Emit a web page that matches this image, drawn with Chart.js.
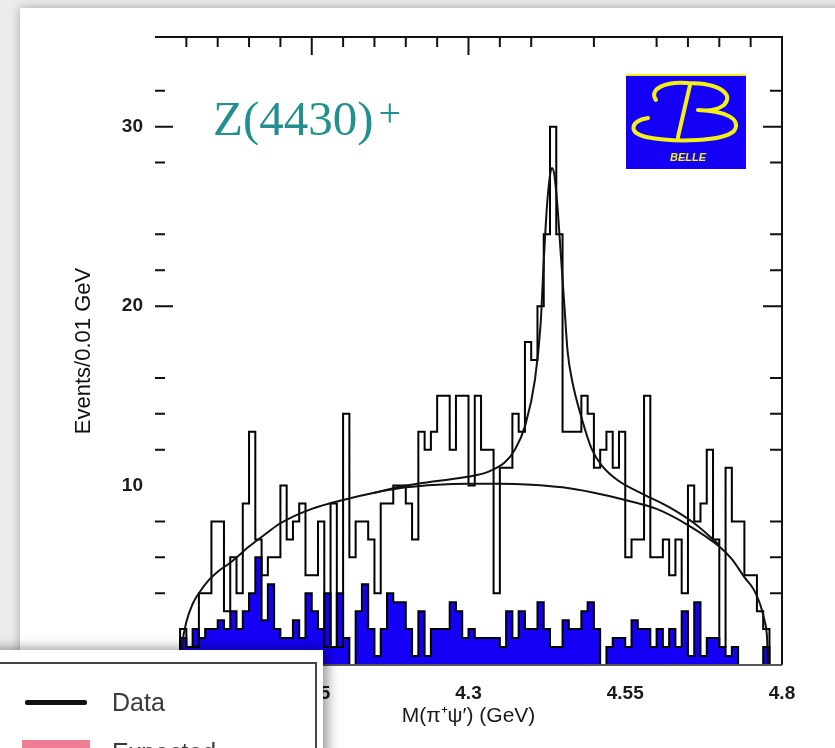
<!DOCTYPE html>
<html>
<head>
<meta charset="utf-8">
<title>Z(4430)+ M(pi+ psi') spectrum</title>
<script src="https://cdn.jsdelivr.net/npm/chart.js@4.4.1/dist/chart.umd.min.js"></script>
<style>
  html, body { margin: 0; padding: 0; }
  body {
    width: 835px; height: 748px; overflow: hidden; position: relative;
    background: #ececec;
    font-family: "Liberation Sans", Arial, sans-serif;
  }
  #card {
    position: absolute; left: 20px; top: 8px; width: 840px; height: 760px;
    background: #fff; box-shadow: 0 0 10px rgba(0, 0, 0, 0.3);
  }
  #plot { position: absolute; left: 0; top: 0; }
  #legendBox {
    position: absolute; left: -20px; top: 650px; width: 343px; height: 140px;
    background: #fff; box-shadow: 4px -1px 12px rgba(0, 0, 0, 0.45);
  }
  #legendBox .inner {
    position: absolute; left: 0; top: 12px; width: 333px; height: 200px;
    border: 2px solid #444;
  }
  .swatch { position: absolute; }
  .swatch.line { left: 43px; top: 36px; width: 62px; height: 5px; background: #111; border-radius: 2px; }
  .swatch.fill { left: 40px; top: 76px; width: 68px; height: 22px; background: rgb(240, 125, 150); }
  .lbl { position: absolute; left: 130px; font-size: 25px; color: #3a3a3a; line-height: 28px; }
</style>
</head>
<body>
<div id="card"></div>
<canvas id="plot" width="835" height="748"></canvas>
<div id="legendBox">
  <div class="inner">
    <span class="swatch line"></span><span class="lbl" style="top:24px">Data</span>
    <span class="swatch fill"></span><span class="lbl" style="top:74px">Expected</span>
  </div>
</div>
<script>
// binning: 100 bins of 0.01 GeV from 3.80 to 4.80
const histLow = 3.80;
const binWidth = 0.01;

// events per bin (data)
const dataCounts = [
  0, 0, 0, 0, 2, 1, 1, 4, 4, 8,
  8, 3, 6, 4, 9, 13, 7, 5, 6, 6,
  10, 7, 8, 9, 5, 5, 8, 1, 9, 1,
  14, 6, 8, 8, 7, 4, 9, 9, 10, 10,
  9, 7, 13, 12, 13, 15, 15, 12, 15, 15,
  10, 15, 12, 12, 4, 11, 11, 14, 13, 18,
  17, 20, 24, 30, 24, 13, 13, 13, 15, 14,
  11, 12, 13, 11, 13, 6, 7, 7, 15, 6,
  6, 7, 5, 7, 4, 10, 8, 9, 12, 7,
  1, 11, 8, 8, 5, 5, 3, 2, 0, 0
];

// expected background per bin (filled)
const expected = [
  0, 0, 0, 0, 1.5, 1, 2, 1.5, 2, 2,
  2.5, 2, 3, 2, 3, 4, 6, 2.5, 4.5, 2,
  1.5, 1.5, 2.5, 1.5, 4, 3, 2, 4, 1, 4,
  1.5, 0, 3, 4.5, 2, 0.5, 2, 4, 3.5, 3.5,
  2, 0.5, 3, 0.5, 2, 2, 2, 3.5, 3, 1.5,
  2, 1.5, 1.5, 1.5, 1.5, 1, 3, 1.5, 3, 2,
  2, 3.5, 2, 1, 1, 2.5, 2, 2, 3, 3.5,
  2, 0, 1, 1.5, 1.5, 1, 2.5, 2, 2, 1,
  2, 1, 2, 1, 3, 0.5, 3.5, 0.5, 1.5, 1.5,
  1, 0.5, 1, 0, 0, 0, 0, 1, 0, 0
];

// background fit curve
const bkgFitMass = [3.840, 3.843, 3.850, 3.860, 3.870, 3.885, 3.900, 3.920, 3.950, 3.980,
  4.000, 4.050, 4.100, 4.150, 4.200, 4.250, 4.300, 4.350, 4.400, 4.450,
  4.500, 4.550, 4.600, 4.650, 4.700, 4.720, 4.740, 4.755, 4.765, 4.772, 4.776, 4.778];
const bkgFitValue = [0, 1.1, 2.4, 3.4, 4.0, 4.7, 5.2, 5.7, 6.6, 7.4,
  7.9, 8.7, 9.2, 9.6, 9.9, 10.05, 10.1, 10.1, 10.05, 9.9,
  9.6, 9.2, 8.7, 7.8, 6.6, 5.9, 4.9, 4.2, 3.4, 2.5, 1.6, 0];

// signal + background fit curve
const totFitMass = [4.150, 4.200, 4.250, 4.300, 4.330, 4.358, 4.374, 4.390, 4.406, 4.415,
  4.420, 4.425, 4.430, 4.433, 4.437, 4.442, 4.447, 4.453, 4.458, 4.465,
  4.481, 4.497, 4.513, 4.538, 4.580, 4.620, 4.660, 4.700];
const totFitValue = [9.6, 10.0, 10.25, 10.5, 10.75, 11.3, 12.0, 13.3, 15.9, 19.0,
  22.5, 25.5, 27.3, 27.7, 27.3, 25.5, 23.0, 20.0, 17.5, 15.9,
  13.7, 12.0, 11.1, 10.3, 9.5, 8.8, 7.9, 6.7];

// axis ticks and labels
const xTickValues = [4.05, 4.3, 4.55, 4.8];
const xTickLabels = ['4.05', '4.3', '4.55', '4.8'];
const yTickValues = [10, 20, 30];
const xMajorMarks = [4.05, 4.3];
const xMinorMarks = [3.85, 3.9, 3.95, 4.0, 4.1, 4.15, 4.2, 4.25, 4.35, 4.4, 4.5, 4.6, 4.65, 4.7, 4.75];
const yMajorMarks = [20, 30];
const yMinorMarks = [4, 6, 8, 12, 14, 16, 22, 24, 28, 32];

const binEdges = Array.from({ length: dataCounts.length + 1 }, (_, i) => +(histLow + i * binWidth).toFixed(2));

// histogram outline: one point per bin low edge plus the closing high edge
const stepPoints = (vals) => {
  const pts = vals.map((v, i) => ({ x: binEdges[i], y: v }));
  pts.push({ x: binEdges[vals.length], y: vals[vals.length - 1] });
  return pts;
};
const curvePoints = (xs, ys) => xs.map((m, i) => ({ x: m, y: ys[i] }));

// frame, inward ticks, title and logo
const framePlugin = {
  id: 'framePlugin',
  afterDraw(chart) {
    const { ctx, chartArea: a, scales: { x, y } } = chart;
    ctx.save();
    ctx.strokeStyle = '#111';
    ctx.lineWidth = 2;
    ctx.beginPath();
    ctx.moveTo(a.left, a.top);
    ctx.lineTo(a.right, a.top);
    ctx.lineTo(a.right, a.bottom);
    ctx.stroke();
    ctx.strokeStyle = '#555';
    ctx.beginPath();
    ctx.moveTo(a.left + 20, a.bottom);
    ctx.lineTo(a.right, a.bottom);
    ctx.stroke();

    ctx.strokeStyle = '#111';
    ctx.beginPath();
    const xMark = (v, len) => {
      const px = x.getPixelForValue(v);
      ctx.moveTo(px, a.top); ctx.lineTo(px, a.top + len);
    };
    xMinorMarks.forEach(v => xMark(v, 10));
    xMajorMarks.forEach(v => xMark(v, 18));
    const yMark = (v, lenL, lenR) => {
      const py = y.getPixelForValue(v);
      ctx.moveTo(a.left, py); ctx.lineTo(a.left + lenL, py);
      ctx.moveTo(a.right, py); ctx.lineTo(a.right - lenR, py);
    };
    yMinorMarks.forEach(v => yMark(v, 10, 12));
    yMajorMarks.forEach(v => yMark(v, 18, 19));
    ctx.stroke();

    // Z(4430)+ label
    ctx.fillStyle = '#22908f';
    ctx.font = '49px "Liberation Serif", "DejaVu Serif", serif';
    ctx.textBaseline = 'alphabetic';
    ctx.fillText('Z(4430)', a.left + 58, a.top + 98);
    const w = ctx.measureText('Z(4430)').width;
    ctx.font = '40px "Liberation Serif", "DejaVu Serif", serif';
    ctx.fillText('+', a.left + 63 + w, a.top + 89);

    // Belle logo
    const lx = a.right - 156, ly = a.top + 38;
    ctx.fillStyle = 'rgb(20, 0, 245)';
    ctx.fillRect(lx, ly, 120, 94);
    ctx.fillStyle = 'rgb(245, 240, 20)';
    ctx.fillRect(lx, ly - 1, 120, 2);
    ctx.strokeStyle = 'rgb(245, 240, 20)';
    ctx.lineWidth = 4;
    ctx.lineCap = 'round';
    ctx.beginPath();
    // upper bowl
    ctx.moveTo(lx + 30, ly + 25);
    ctx.bezierCurveTo(lx + 22, ly + 14, lx + 40, ly + 6, lx + 62, ly + 8);
    ctx.bezierCurveTo(lx + 95, ly + 8, lx + 108, ly + 20, lx + 98, ly + 30);
    ctx.bezierCurveTo(lx + 90, ly + 36, lx + 80, ly + 36, lx + 72, ly + 35);
    // lower bowl
    ctx.moveTo(lx + 72, ly + 35);
    ctx.bezierCurveTo(lx + 100, ly + 36, lx + 116, ly + 44, lx + 108, ly + 56);
    ctx.bezierCurveTo(lx + 98, ly + 66, lx + 50, ly + 68, lx + 20, ly + 62);
    ctx.bezierCurveTo(lx + 2, ly + 58, lx + 4, ly + 46, lx + 22, ly + 43);
    // stem
    ctx.moveTo(lx + 64, ly + 10);
    ctx.lineTo(lx + 52, ly + 62);
    ctx.stroke();
    ctx.font = 'italic bold 11px "Liberation Sans", sans-serif';
    ctx.textAlign = 'center';
    ctx.fillText('BELLE', lx + 62, ly + 86);
    ctx.restore();
  }
};

const ctx = document.getElementById('plot').getContext('2d');
new Chart(ctx, {
  type: 'line',
  data: {
    datasets: [{
      label: 'Expected',
      data: stepPoints(expected),
      stepped: 'before',
      fill: 'origin',
      backgroundColor: 'rgb(20, 0, 245)',
      borderColor: '#000',
      borderWidth: 2,
      pointRadius: 0,
      order: 4
    }, {
      label: 'Data',
      data: stepPoints(dataCounts),
      stepped: 'before',
      fill: false,
      borderColor: '#000',
      borderWidth: 2,
      pointRadius: 0,
      order: 3
    }, {
      label: 'Background fit',
      data: curvePoints(bkgFitMass, bkgFitValue),
      cubicInterpolationMode: 'monotone',
      fill: false,
      borderColor: '#111',
      borderWidth: 2,
      pointRadius: 0,
      order: 2
    }, {
      label: 'Signal + background fit',
      data: curvePoints(totFitMass, totFitValue),
      cubicInterpolationMode: 'monotone',
      fill: false,
      borderColor: '#111',
      borderWidth: 2,
      pointRadius: 0,
      order: 1
    }]
  },
  options: {
    responsive: false,
    animation: false,
    layout: { padding: { top: 37, right: 53, left: 0, bottom: 0 } },
    plugins: {
      legend: { display: false },
      tooltip: { enabled: false }
    },
    scales: {
      x: {
        type: 'linear',
        min: 3.8,
        max: 4.8,
        afterBuildTicks: (s) => { s.ticks = xTickValues.map(v => ({ value: v })); },
        afterFit: (s) => { s.height = 83; },
        grid: { display: false, drawTicks: false },
        border: { display: false },
        ticks: {
          autoSkip: false,
          maxRotation: 0,
          padding: 17,
          color: '#1a1a1a',
          font: { size: 19, weight: 'bold', family: '"Liberation Sans", Arial, sans-serif' },
          callback: (v) => xTickLabels[xTickValues.indexOf(v)]
        },
        title: {
          display: true,
          text: 'M(π⁺ψ′) (GeV)',
          color: '#1a1a1a',
          font: { size: 21, family: '"Liberation Sans", Arial, sans-serif' },
          padding: { top: 0, bottom: 19 }
        }
      },
      y: {
        min: 0,
        max: 35,
        afterBuildTicks: (s) => { s.ticks = yTickValues.map(v => ({ value: v })); },
        afterFit: (s) => { s.width = 155; },
        grid: { display: false, drawTicks: false },
        border: { display: false },
        ticks: {
          padding: 12,
          color: '#1a1a1a',
          font: { size: 19, weight: 'bold', family: '"Liberation Sans", Arial, sans-serif' }
        },
        title: {
          display: true,
          text: 'Events/0.01 GeV',
          color: '#111',
          font: { size: 22, family: '"Liberation Sans", Arial, sans-serif' },
          padding: { top: 71, bottom: 0 }
        }
      }
    }
  },
  plugins: [framePlugin]
});
</script>
</body>
</html>
